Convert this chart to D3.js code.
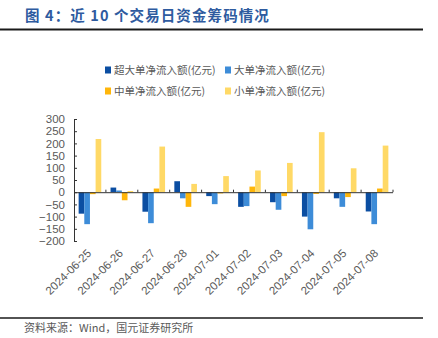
<!DOCTYPE html>
<html><head><meta charset="utf-8">
<script src="https://cdn.jsdelivr.net/npm/d3@7"></script>
<style>body{margin:0;background:#fff;}svg{display:block;}</style>
</head><body>
<svg id="c" width="438" height="338"></svg>
<script>
const categories = ["2024-06-25","2024-06-26","2024-06-27","2024-06-28","2024-07-01","2024-07-02","2024-07-03","2024-07-04","2024-07-05","2024-07-08"];
const seriesNames = ["超大单净流入额(亿元)","大单净流入额(亿元)","中单净流入额(亿元)","小单净流入额(亿元)"];
const superLarge = [-88, 19, -80, 45, -16, -60, -41, -100, -25, -79];
const large = [-131, 7, -127, -25, -49, -57, -72, -152, -60, -131];
const medium = [-8, -33, 15, -60, -5, 23, -16, -7, -20, 15];
const small = [218, 5, 187, 34, 66, 89, 120, 246, 98, 191];
const yTicks = [300,250,200,150,100,50,0,-50,-100,-150,-200];
const colors = ["#0B4EA2","#3D8CD8","#FFB60A","#FFD966"];

const seriesValues = [superLarge, large, medium, small];
const svg = d3.select("#c");

// title
svg.append("text").attr("x",25).attr("y",21).attr("fill","#2E5B9F")
  .attr("font-family","'Noto Sans CJK SC', sans-serif").attr("font-weight","bold").attr("font-size",14.5)
  .attr("letter-spacing",1.1)
  .text("图 4：近 10 个交易日资金筹码情况");
svg.append("line").attr("x1",0).attr("x2",423).attr("y1",29.5).attr("y2",29.5).attr("stroke","#1a1a1a").attr("stroke-width",2);

// legend
const legPos = [[105,70],[225,70],[105,91],[225,91]];
seriesNames.forEach((n,i)=>{
  const g = svg.append("g").attr("transform",`translate(${legPos[i][0]},${legPos[i][1]})`);
  g.append("rect").attr("x",0).attr("y",-3.5).attr("width",6).attr("height",7).attr("fill",colors[i]);
  g.append("text").attr("x",9).attr("y",4).attr("fill","#595959")
    .attr("font-family","'Noto Sans CJK SC', sans-serif").attr("font-size",10.5).text(n);
});

const x = d3.scaleBand().domain(categories).range([74,393]).paddingInner(0).paddingOuter(0);
const xs = d3.scaleBand().domain(d3.range(4)).range([0,x.bandwidth()]).paddingInner(0).paddingOuter(0.82);
const y = d3.scaleLinear().domain([-200,300]).range([241,119]);

// bars
categories.forEach((c,ci)=>{
  seriesValues.forEach((vals,si)=>{
    const v = vals[ci];
    svg.append("rect")
      .attr("x", x(c)+xs(si)).attr("width", xs.bandwidth())
      .attr("y", y(Math.max(0,v))).attr("height", Math.abs(y(v)-y(0)))
      .attr("fill", colors[si]);
  });
});

// y axis
const yAxis = d3.axisRight(y).tickValues(yTicks).tickSize(3).tickFormat(d3.format("d"));
const ga = svg.append("g").attr("transform","translate(74,0)").call(yAxis);
ga.select(".domain").attr("stroke","#333").attr("d","M3,119.5H0.5V241.5H3");
ga.selectAll(".tick line").attr("stroke","#333");
ga.selectAll(".tick text").attr("x",-9).attr("text-anchor","end").attr("fill","#595959")
  .attr("font-family","'Liberation Sans', Arial, sans-serif").attr("font-size",11.5);

// zero line with upward ticks
const xAxis = d3.axisTop(x).tickSize(0).tickFormat("");
const gx = svg.append("g").attr("transform",`translate(0,${y(0)})`).call(xAxis);
gx.select(".domain").attr("stroke","#333").attr("d",`M74,0.5H393`);
const boundaries = categories.map(c=>x(c)+x.bandwidth());
svg.selectAll(".bt").data(boundaries).enter().append("line")
  .attr("x1",d=>d).attr("x2",d=>d).attr("y1",y(0)-2.5).attr("y2",y(0)).attr("stroke","#333");

// x labels
svg.selectAll(".xl").data(categories).enter().append("text")
  .attr("transform",d=>`translate(${x(d)+x.bandwidth()/2+2},${254}) rotate(-45)`)
  .attr("text-anchor","end").attr("fill","#595959")
  .attr("font-family","'Liberation Sans', Arial, sans-serif").attr("font-size",11.5)
  .text(d=>d);

// footer
svg.append("line").attr("x1",0).attr("x2",423).attr("y1",318).attr("y2",318).attr("stroke","#1a1a1a").attr("stroke-width",1.5);
svg.append("text").attr("x",24).attr("y",332).attr("fill","#595959")
  .attr("font-family","'Noto Sans CJK SC', sans-serif").attr("font-size",11)
  .text("资料来源：Wind，国元证券研究所");
</script>
</body></html>
